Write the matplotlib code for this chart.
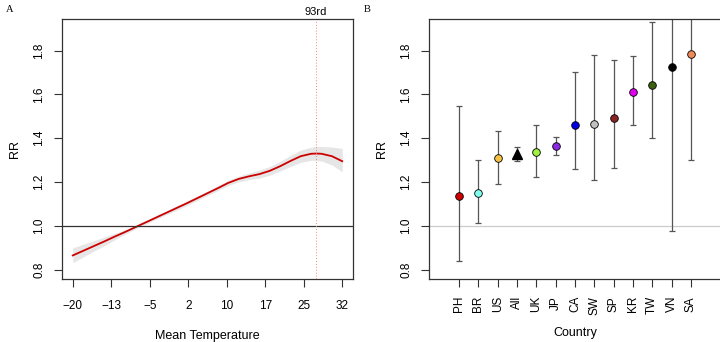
#! /usr/bin/env python3

import numpy as np
import matplotlib
matplotlib.use("Agg")
import matplotlib.pyplot as plt

# panel A: exposure-response curve
temp = [-20, -18, -16, -14, -12, -10, -8, -6, -4, -2, 0, 2, 4, 6, 8,
        10, 12, 14, 16, 18, 20, 22, 24, 26, 27, 28, 30, 32]
rr = [0.865, 0.886, 0.907, 0.928, 0.950, 0.971, 0.993, 1.015, 1.037, 1.059,
      1.081, 1.103, 1.126, 1.149, 1.172, 1.196, 1.214, 1.226, 1.236, 1.251,
      1.272, 1.296, 1.318, 1.329, 1.330, 1.329, 1.318, 1.295]
rr_low = [0.832, 0.858, 0.884, 0.909, 0.935, 0.961, 0.985, 1.007, 1.029, 1.051,
          1.071, 1.093, 1.116, 1.139, 1.161, 1.184, 1.201, 1.211, 1.218, 1.231,
          1.250, 1.271, 1.290, 1.299, 1.298, 1.296, 1.278, 1.247]
rr_high = [0.900, 0.916, 0.932, 0.948, 0.965, 0.981, 1.001, 1.023, 1.045, 1.067,
           1.091, 1.113, 1.136, 1.159, 1.183, 1.208, 1.227, 1.241, 1.254, 1.271,
           1.294, 1.321, 1.346, 1.359, 1.362, 1.362, 1.360, 1.353]
temp_ticks = [-20, -12.57, -5.14, 2.29, 9.71, 17.14, 24.57, 32]
temp_labels = ["\u221220", "\u221213", "\u22125", "2", "10", "17", "25", "32"]
mmt = 26.9

# panel B: country estimates
countries = ["PH", "BR", "US", "All", "UK", "JP", "CA", "SW", "SP", "KR", "TW", "VN", "SA"]
est = [1.138, 1.149, 1.308, 1.330, 1.335, 1.364, 1.461, 1.467, 1.490, 1.610, 1.644, 1.723, 1.786]
lo = [0.839, 1.015, 1.191, 1.295, 1.223, 1.323, 1.258, 1.209, 1.264, 1.459, 1.400, 0.976, 1.299]
hi = [1.545, 1.299, 1.433, 1.362, 1.459, 1.406, 1.701, 1.779, 1.756, 1.777, 1.931, 2.10, 2.15]
colors = ["#D00000", "#80FFEE", "#F5C242", "black", "#A0F040", "#8A2BE2", "#0000E0",
          "#C0C0C0", "#8B2323", "#E000F0", "#3A6010", "black", "#F08A5A"]

FONT = "Liberation Sans"
YLIM = (0.756, 1.944)
YTICKS = [0.8, 1.0, 1.2, 1.4, 1.6, 1.8]


def style_axes(ax):
	for s in ax.spines.values():
		s.set_color("#333333")
		s.set_linewidth(0.9)
	ax.tick_params(axis="both", length=6, width=0.8, color="#333333", labelsize=8.5)
	ax.tick_params(axis="y", labelrotation=90, pad=6)
	for lab in ax.get_yticklabels():
		lab.set_verticalalignment("center")
	ax.set_ylim(*YLIM)
	ax.set_yticks(YTICKS)
	ax.set_yticklabels(["%.1f" % v for v in YTICKS], fontfamily=FONT)
	ax.set_ylabel("RR", fontfamily=FONT, fontsize=9, labelpad=9)


def main():
	fig = plt.figure(figsize=(7.2, 3.42), dpi=100)

	# panel A
	ax1 = fig.add_axes([0.0861, 0.1833, 0.4042, 0.7611])
	ax1.fill_between(temp, rr_low, rr_high, color="#E6E6E6", lw=0)
	ax1.plot(temp, rr, color="#CC0000", lw=1.3)
	ax1.axhline(1.0, color="#333333", lw=0.9)
	ax1.axvline(mmt, color="#F08080", lw=0.7, ls=(0, (1, 2)))
	ax1.set_xlim(-22.08, 34.08)
	ax1.set_xticks(temp_ticks)
	ax1.set_xticklabels(temp_labels, fontfamily=FONT)
	style_axes(ax1)
	ax1.tick_params(axis="x", pad=9)
	ax1.set_xlabel("Mean Temperature", fontfamily=FONT, fontsize=9, labelpad=13)
	ax1.text(mmt, 1.955, "93rd", ha="center", va="bottom", fontfamily=FONT, fontsize=8)

	# panel B
	ax2 = fig.add_axes([0.5958, 0.1833, 0.4056, 0.7611])
	x = np.arange(1, len(countries) + 1)
	ax2.axhline(1.0, color="#CCCCCC", lw=0.9)
	for i in range(len(countries)):
		ax2.errorbar(x[i], est[i], yerr=[[est[i] - lo[i]], [hi[i] - est[i]]],
			fmt="none", ecolor="#555555", elinewidth=0.9, capsize=2.5, capthick=0.9)
		if countries[i] == "All":
			ax2.plot(x[i], est[i], marker="^", ms=6.5, color="black", ls="none", zorder=3)
		else:
			ax2.plot(x[i], est[i], marker="o", ms=5.5, mfc=colors[i], mec="black",
				mew=0.6, ls="none", zorder=3)
	ax2.set_xlim(-0.56, 14.56)
	ax2.set_xticks(x)
	ax2.set_xticklabels(countries, rotation=90, fontfamily=FONT)
	style_axes(ax2)
	ax2.tick_params(axis="x", pad=6)
	ax2.set_xlabel("Country", fontfamily=FONT, fontsize=9, labelpad=9)

	fig.text(0.008, 0.985, "A", ha="left", va="top", fontfamily="Liberation Serif", fontsize=7.5)
	fig.text(0.505, 0.985, "B", ha="left", va="top", fontfamily="Liberation Serif", fontsize=7.5)

	fig.savefig("out.png", dpi=100)


if __name__ == "__main__":
	main()
